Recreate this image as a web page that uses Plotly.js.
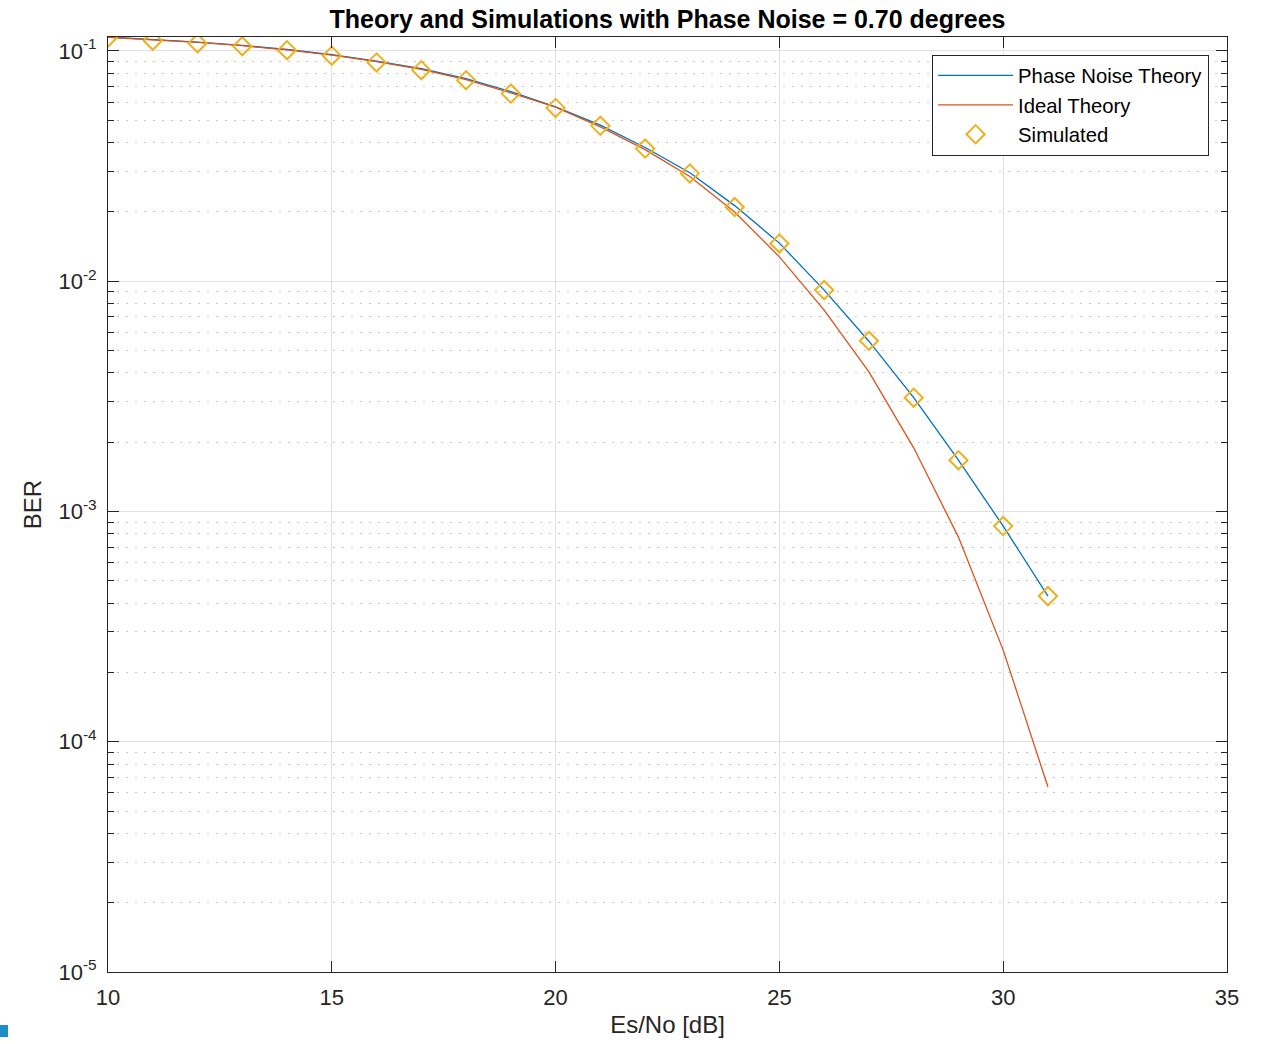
<!DOCTYPE html>
<html>
<head>
<meta charset="utf-8">
<script src="https://cdn.plot.ly/plotly-3.0.1.min.js"></script>
<style>
  html, body { margin: 0; padding: 0; background: #fff; }
  #chart { width: 1263px; height: 1044px; }
  #mark { position: absolute; left: 0; top: 1025px; width: 8px; height: 12px; background: #1a8fc4; }
</style>
</head>
<body>
<div id="chart"></div>
<div id="mark"></div>
<script>
// Es/No [dB]
const esno = [10, 11, 12, 13, 14, 15, 16, 17, 18, 19, 20, 21, 22, 23, 24, 25, 26, 27, 28, 29, 30, 31];
// BER, phase noise theory
const berPhaseNoise = [0.1150, 0.1123, 0.1092, 0.1057, 0.1015, 0.0964, 0.0903, 0.0838, 0.0758, 0.0666,
  0.0572, 0.0476, 0.0381, 0.0296, 0.0213, 0.01464, 0.00915, 0.00549, 0.00312, 0.00167, 0.000864, 0.000429];
// BER, ideal theory
const berIdeal = [0.1147, 0.1120, 0.1089, 0.1054, 0.1011, 0.0960, 0.0898, 0.0832, 0.0751, 0.0658,
  0.0570, 0.0468, 0.0373, 0.0285, 0.0200, 0.01276, 0.00749, 0.00404, 0.00189, 0.000774, 0.000250, 0.0000636];
// BER, simulated
const berSimulated = [0.1144, 0.1108, 0.1081, 0.1049, 0.1008, 0.0954, 0.0892, 0.0825, 0.0747, 0.0653,
  0.0566, 0.0473, 0.0377, 0.0294, 0.0210, 0.01459, 0.00915, 0.00551, 0.00312, 0.00167, 0.000864, 0.000429];
// y tick labels
const yTickVals = [1e-5, 1e-4, 1e-3, 1e-2, 1e-1];
const yTickText = ['10<sup>-5</sup>', '10<sup>-4</sup>', '10<sup>-3</sup>', '10<sup>-2</sup>', '10<sup>-1</sup>'];
const xTickVals = [10, 15, 20, 25, 30, 35];

const FONT = 'Liberation Sans, Arial, Helvetica, sans-serif';
const AXC = '#262626';

const traces = [
  { x: esno, y: berPhaseNoise, type: 'scatter', mode: 'lines', name: 'Phase Noise Theory',
    line: { color: '#0072BD', width: 1.3 } },
  { x: esno, y: berIdeal, type: 'scatter', mode: 'lines', name: 'Ideal Theory',
    line: { color: '#D95319', width: 1.3 } },
  { x: esno, y: berSimulated, type: 'scatter', mode: 'markers', name: 'Simulated',
    marker: { symbol: 'diamond-open', size: 14, color: '#EDB120', line: { color: '#EDB120', width: 2 } } }
];

const layout = {
  width: 1263, height: 1044,
  margin: { l: 108, r: 36, t: 37, b: 72 },
  paper_bgcolor: '#fff', plot_bgcolor: '#fff',
  font: { family: FONT, size: 22, color: AXC },
  title: { text: '<b>Theory and Simulations with Phase Noise = 0.70 degrees</b>',
    font: { family: FONT, size: 25, color: '#000' },
    xref: 'paper', x: 0.5, xanchor: 'center', yref: 'container', y: 0.982, yanchor: 'middle' },
  xaxis: {
    range: [10, 35], tickmode: 'array', tickvals: xTickVals,
    ticks: 'inside', ticklen: 11, tickwidth: 1, tickcolor: AXC,
    showline: true, linecolor: AXC, linewidth: 1, mirror: 'ticks',
    showgrid: true, gridcolor: '#e1e1e1', gridwidth: 1, zeroline: false,
    tickfont: { family: FONT, size: 22, color: AXC }, ticklabelstandoff: 6,
    title: { text: 'Es/No [dB]', font: { family: FONT, size: 24, color: AXC }, standoff: 6 }
  },
  yaxis: {
    type: 'log', range: [-5, Math.log10(0.1150)], tickmode: 'array', tickvals: yTickVals, ticktext: yTickText,
    ticks: 'inside', ticklen: 11, tickwidth: 1, tickcolor: AXC,
    showline: true, linecolor: AXC, linewidth: 1, mirror: 'ticks',
    showgrid: true, gridcolor: '#e1e1e1', gridwidth: 1, zeroline: false,
    tickfont: { family: FONT, size: 22, color: AXC }, ticklabelstandoff: 6,
    minor: { dtick: 'D1', ticks: 'inside', ticklen: 6, tickcolor: AXC, tickwidth: 1,
      showgrid: true, gridcolor: '#c8c8c8', griddash: '2px,7px', gridwidth: 1 },
    title: { text: 'BER', font: { family: FONT, size: 24, color: AXC }, standoff: 10 }
  },
  showlegend: true,
  legend: {
    x: 0.984, xanchor: 'right', y: 0.981, yanchor: 'top',
    bgcolor: '#fff', bordercolor: AXC, borderwidth: 1,
    font: { family: FONT, size: 20.3, color: '#000' },
    itemwidth: 75, tracegroupgap: 0
  }
};

Plotly.newPlot('chart', traces, layout, { displayModeBar: false, staticPlot: true });
</script>
</body>
</html>
